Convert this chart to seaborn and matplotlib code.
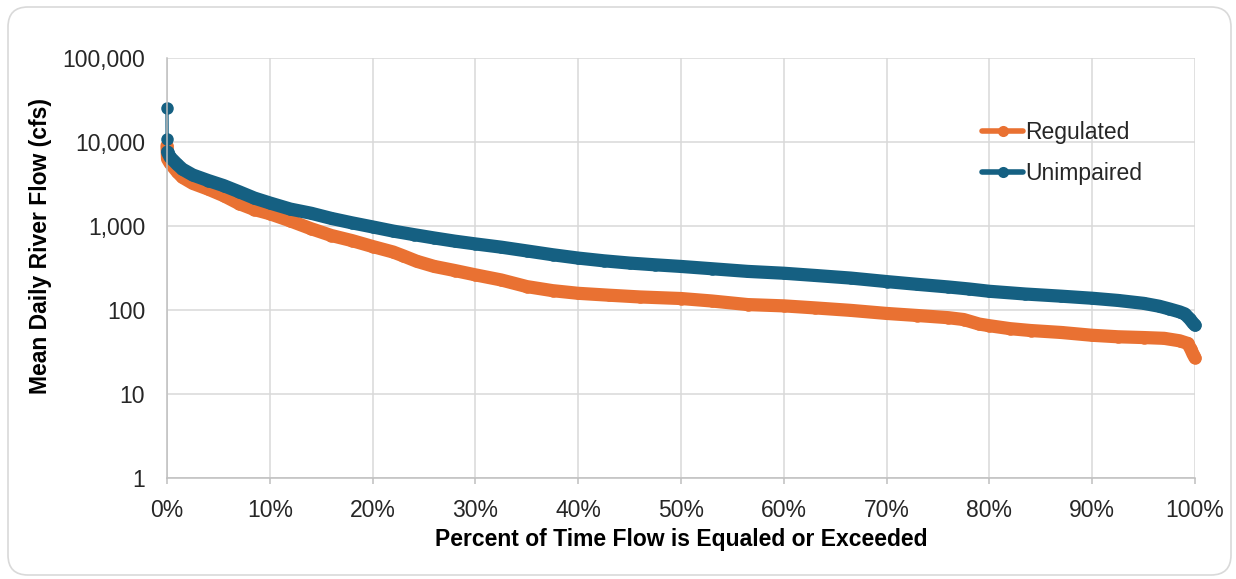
import pandas as pd
import seaborn as sns
import matplotlib.pyplot as plt
from matplotlib.lines import Line2D
from matplotlib.patches import FancyBboxPatch
from matplotlib.ticker import FuncFormatter, FixedLocator, NullLocator

sns.set_theme(style='white')
plt.rcParams['font.family'] = ['Liberation Sans', 'DejaVu Sans']

# Flow duration curves
# x: percent of time flow is equaled or exceeded, y: mean daily flow (cfs)
unimpaired_pct = [0, 0.01, 0.05, 0.3, 1, 1.5, 2.5, 4, 5.5, 7, 8.5, 10, 12, 14,
                  16, 18, 20, 22, 24, 26, 28, 30, 32.5, 35, 37.5, 40, 42.5, 45,
                  47.5, 50, 53, 56.5, 60, 63, 66.5, 70, 73, 76, 78, 80, 83.5,
                  87, 90, 92.5, 95, 96.5, 97.5, 98.5, 99, 99.5, 99.8, 100]
unimpaired_cfs = [25200, 10950, 7600, 6600, 5400, 4750, 4050, 3480, 3030, 2560,
                  2150, 1880, 1590, 1420, 1230, 1090, 975, 870, 790, 720, 660,
                  612, 560, 505, 455, 415, 385, 362, 345, 330, 310, 288, 274,
                  258, 240, 218, 202, 188, 178, 167, 155, 146, 138, 130, 120,
                  111, 103, 95, 90, 78, 70, 66]

regulated_pct = [0, 0.05, 0.3, 1, 1.5, 2.5, 4, 5.5, 7, 8.5, 10, 12, 14, 16, 18,
                 20, 22, 23, 24.3, 26, 28, 30, 32.5, 35, 37.5, 40, 43, 46, 50,
                 53, 56.5, 60, 63, 66.5, 70, 73, 76, 77.5, 79, 80, 82, 84, 87,
                 90, 92.5, 95, 97, 98.5, 99.3, 99.6, 99.8, 100]
regulated_cfs = [9000, 6300, 5600, 4400, 3800, 3220, 2750, 2300, 1850, 1570,
                 1400, 1150, 930, 770, 670, 570, 490, 440, 380, 330, 295, 262,
                 228, 190, 170, 158, 150, 143, 137, 128, 116, 112, 106, 99, 91,
                 86, 81, 77, 68, 65, 60, 57, 54, 50, 48, 47, 46, 43, 40, 34,
                 30, 27]

y_ticks = [1, 10, 100, 1000, 10000, 100000]
x_ticks = list(range(0, 101, 10))

ORANGE = '#E97132'
BLUE = '#156082'

regulated = pd.DataFrame({'pct': regulated_pct, 'cfs': regulated_cfs})
unimpaired = pd.DataFrame({'pct': unimpaired_pct, 'cfs': unimpaired_cfs})

fig = plt.figure(figsize=(12.36, 5.79), dpi=100)

# rounded chart border
border = FancyBboxPatch((0.08, 0.04), 12.23, 5.68,
                        boxstyle='round,pad=0,rounding_size=0.2',
                        transform=fig.dpi_scale_trans, facecolor='white',
                        edgecolor='#d9d9d9', linewidth=1.2, zorder=-5)
fig.add_artist(border)

ax = fig.add_axes([167 / 1236, 1 - 478 / 579, 1028 / 1236, 420 / 579])
ax.set_facecolor('none')

# daily markers overlap into a solid band; the top peaks stay separate
for df, color, start in [(regulated, ORANGE, 0), (unimpaired, BLUE, 2)]:
    sns.lineplot(data=df.iloc[start:], x='pct', y='cfs', color=color,
                 linewidth=9.5, estimator=None, sort=False, ax=ax,
                 solid_capstyle='round', solid_joinstyle='round', clip_on=False)
    sns.lineplot(data=df, x='pct', y='cfs', color=color, linewidth=2.4,
                 marker='o', markersize=9, markeredgewidth=0,
                 estimator=None, sort=False, ax=ax, clip_on=False)

ax.set_yscale('log')
ax.set_ylim(1, 100000)
ax.set_xlim(0, 100)
ax.yaxis.set_major_locator(FixedLocator(y_ticks))
ax.yaxis.set_minor_locator(NullLocator())
ax.yaxis.set_major_formatter(FuncFormatter(lambda v, _: f'{v:,.0f}'))
ax.xaxis.set_major_locator(FixedLocator(x_ticks))
ax.xaxis.set_major_formatter(FuncFormatter(lambda v, _: f'{v:.0f}%'))

ax.grid(True, which='major', color='#d9d9d9', linewidth=1.1)
ax.set_axisbelow(True)
for side in ['top', 'right']:
    ax.spines[side].set_visible(False)
for side in ['left', 'bottom']:
    ax.spines[side].set_color('#bfbfbf')
    ax.spines[side].set_linewidth(1.1)

ax.tick_params(axis='x', bottom=True, direction='out', length=4.3, width=1.1,
               color='#bfbfbf', pad=11, labelsize=16.5, labelcolor='#262626')
ax.tick_params(axis='y', left=False, length=0, pad=15.8, labelsize=16.5,
               labelcolor='#262626')

ax.set_xlabel('Percent of Time Flow is Equaled or Exceeded', fontsize=16.5,
              fontweight='bold', color='black')
ax.set_ylabel('Mean Daily River Flow (cfs)', fontsize=16.5, fontweight='bold',
              color='black')
ax.xaxis.set_label_coords(0.5, -0.119)
ax.yaxis.set_label_coords(-0.112, 0.552)

handles = [Line2D([0], [0], color=ORANGE, lw=4, marker='o', markersize=8,
                  markeredgewidth=0),
           Line2D([0], [0], color=BLUE, lw=4, marker='o', markersize=8,
                  markeredgewidth=0)]
ax.legend(handles, ['Regulated', 'Unimpaired'], frameon=False,
          loc='upper left', bbox_to_anchor=(982 / 1236, 1 - 121 / 579),
          bbox_transform=fig.transFigure, fontsize=16.5, handlelength=1.8,
          handletextpad=0.1, labelspacing=0.8, borderpad=0,
          borderaxespad=0)

fig.savefig('out.png', dpi=100)
